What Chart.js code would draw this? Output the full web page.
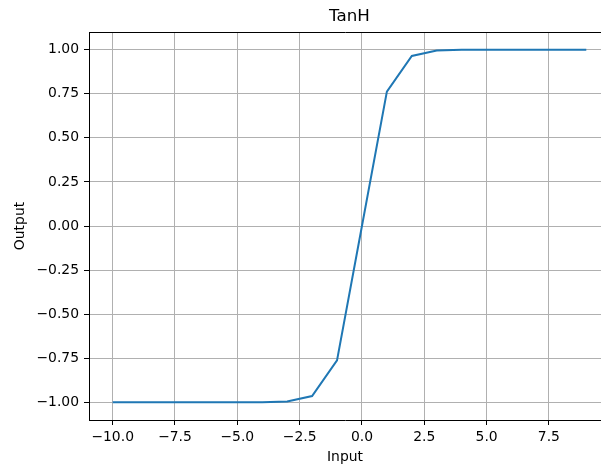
<!DOCTYPE html>
<html>
    <head>
        <meta charset = "UTF-8">
        <title>TanH</title>
        <script src = "https://cdn.jsdelivr.net/npm/chart.js@4.4.1/dist/chart.umd.min.js"></script>
        <style>
            html, body { margin: 0; padding: 0; background: #fff; overflow: hidden; width: 601px; height: 466px; }
            #chart { display: block; position: absolute; left: 0; top: 0; }
        </style>
    </head>
    <body>
        <canvas id = "chart" width = "601" height = "466"></canvas>

        <script>
            // values
            const inputs  = [-10, -9, -8, -7, -6, -5, -4, -3, -2, -1, 0, 1, 2, 3, 4, 5, 6, 7, 8, 9];
            const outputs = [-1.0, -1.0, -1.0, -1.0, -1.0, -1.0, -0.999, -0.995, -0.964, -0.762,
                             0.0, 0.762, 0.964, 0.995, 0.999, 1.0, 1.0, 1.0, 1.0, 1.0];
            const xTicks = [-10, -7.5, -5, -2.5, 0, 2.5, 5, 7.5];
            const yTicks = [-1, -0.75, -0.5, -0.25, 0, 0.25, 0.5, 0.75, 1];
            const chartTitle = "TanH";
            const xLabel = "Input";
            const yLabel = "Output";

            const FONT = "'DejaVu Sans', sans-serif";
            const minus = s => s.replace("-", "\u2212");

            // title centred over the whole axes (matplotlib's axes run ~9px past the picture edge)
            const titleOverAxes = {
                id: "titleOverAxes",
                afterDraw(chart) {
                    const {ctx, chartArea: a} = chart;
                    ctx.save();
                    ctx.fillStyle = "#000";
                    ctx.font = "16.7px " + FONT;
                    ctx.textAlign = "center";
                    ctx.textBaseline = "middle";
                    ctx.fillText(chartTitle, (a.left + a.right + 9) / 2, 17);
                    ctx.restore();
                }
            };

            const gridStyle = {
                color: "#b0b0b0",
                lineWidth: 1,
                tickColor: "#000",
                tickLength: 5,
                tickWidth: 1
            };

            new Chart(document.getElementById("chart"), {
                type: "line",
                data: {
                    datasets: [{
                        data: inputs.map((x, i) => ({x: x, y: outputs[i]})),
                        borderColor: "#1f77b4",
                        borderWidth: 2,
                        pointRadius: 0,
                        tension: 0,
                        fill: false
                    }]
                },
                options: {
                    responsive: false,
                    animation: false,
                    layout: {autoPadding: false, padding: {top: 32, right: 0, left: 0, bottom: 0}},
                    plugins: {legend: {display: false}, tooltip: {enabled: false}},
                    scales: {
                        x: {
                            type: "linear",
                            min: -10.95,
                            max: 9.59,
                            afterBuildTicks: s => { s.ticks = xTicks.map(v => ({value: v})); },
                            afterFit: s => { s.height = 46; },
                            grid: gridStyle,
                            border: {display: true, color: "#000", width: 1},
                            ticks: {
                                color: "#000",
                                padding: 4,
                                maxRotation: 0,
                                font: {family: FONT, size: 13.9},
                                callback: v => minus(v.toFixed(1))
                            },
                            title: {
                                display: true,
                                text: xLabel,
                                color: "#000",
                                padding: {top: 0, bottom: 0},
                                font: {family: FONT, size: 13.9}
                            }
                        },
                        // top spine only: no ticks, no grid
                        xTop: {
                            type: "linear",
                            position: "top",
                            min: -10.95,
                            max: 9.59,
                            afterFit: s => { s.height = 0; },
                            grid: {display: false, drawTicks: false},
                            border: {display: true, color: "#000", width: 1},
                            ticks: {display: false}
                        },
                        y: {
                            min: -1.1,
                            max: 1.1,
                            afterBuildTicks: s => { s.ticks = yTicks.map(v => ({value: v})); },
                            afterFit: s => { s.width = 89; },
                            grid: gridStyle,
                            border: {display: true, color: "#000", width: 1},
                            ticks: {
                                color: "#000",
                                padding: 5,
                                font: {family: FONT, size: 13.9},
                                callback: v => minus(v.toFixed(2))
                            },
                            title: {
                                display: true,
                                text: yLabel,
                                color: "#000",
                                padding: {top: 12, bottom: 0},
                                font: {family: FONT, size: 13.9}
                            }
                        }
                    }
                },
                plugins: [titleOverAxes]
            });
        </script>
    </body>
</html>
